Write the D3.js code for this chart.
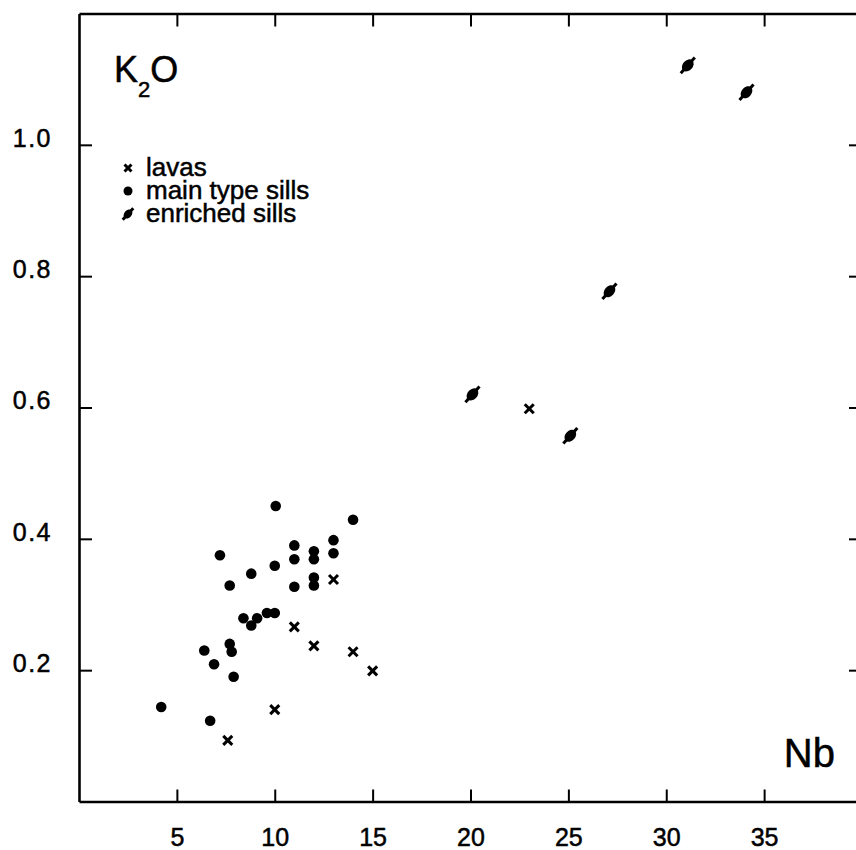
<!DOCTYPE html>
<html>
<head>
<meta charset="utf-8">
<script src="https://cdn.jsdelivr.net/npm/d3@7"></script>
<style>
  body { margin: 0; background: white; }
  text { font-family: "Liberation Sans", Arial, Helvetica, sans-serif; fill: black; stroke: black; stroke-width: 0.5px; }
</style>
</head>
<body>
<div id="canvas"></div>
<script>
"use strict"

let svgWidth = 856;
let svgHeight = 850;

/* Nb (ppm) vs K2O (wt%) : dataset */
let lavasNb  = [13.0, 11.0, 12.0, 14.0, 15.0, 10.0, 7.6, 23.0];
let lavasK2O = [0.338, 0.266, 0.237, 0.228, 0.199, 0.140, 0.093, 0.598];

let mainNb  = [10.05, 14.0, 13.0, 7.2, 11.0, 11.0, 12.0, 12.0, 13.0, 8.8, 10.0, 7.7, 11.0, 12.0,
               12.0, 8.4, 9.1, 8.8, 9.6, 10.0, 6.4, 7.7, 7.8, 6.9, 7.9, 6.7, 4.2];
let mainK2O = [0.450, 0.429, 0.398, 0.375, 0.390, 0.369, 0.381, 0.369, 0.378, 0.347, 0.359, 0.329, 0.327, 0.341,
               0.329, 0.279, 0.279, 0.268, 0.287, 0.287, 0.230, 0.240, 0.228, 0.209, 0.190, 0.123, 0.144];

let enrichedNb  = [20.1, 25.1, 27.1, 31.1, 34.1];
let enrichedK2O = [0.620, 0.557, 0.777, 1.121, 1.080];

let xTicks = [5, 10, 15, 20, 25, 30, 35];
let yTicks = [0.2, 0.4, 0.6, 0.8, 1.0];

let legendLabels = ["lavas", "main type sills", "enriched sills"];

/* Create drawing canvas */
let svg = d3.select("#canvas")
    .append("svg")
    .attr("width", svgWidth)
    .attr("height", svgHeight);

svg.append("rect")
    .attr("width", svgWidth)
    .attr("height", svgHeight)
    .attr("fill", "white");

/* Scales */
let xScale = d3.scaleLinear()
    .domain([0, 40])
    .range([79, 862]);

let yScale = d3.scaleLinear()
    .domain([0, 1.2])
    .range([801.5, 13.5]); //flipped for SVG

/* Axes: ticks point inward on all four sides */
let bottomAxis = svg.append("g")
    .attr("transform", "translate(0," + yScale(0) + ")")
    .call(d3.axisBottom(xScale).tickValues(xTicks).tickSize(-12).tickSizeOuter(0));

bottomAxis.selectAll("text")
    .attr("y", 44)
    .attr("dy", 0)
    .style("font-size", "25px");

svg.append("g")
    .attr("transform", "translate(0," + yScale(1.2) + ")")
    .call(d3.axisTop(xScale).tickValues(xTicks).tickSize(-13).tickSizeOuter(0).tickFormat(""));

let leftAxis = svg.append("g")
    .attr("transform", "translate(" + xScale(0) + ",0)")
    .call(d3.axisLeft(yScale).tickValues(yTicks).tickSize(-13).tickSizeOuter(0).tickFormat(d3.format(".1f")));

leftAxis.selectAll("text")
    .attr("x", -27)
    .attr("dy", "0.05em")
    .style("font-size", "25px")
    .style("letter-spacing", "1.5px");

svg.append("g")
    .attr("transform", "translate(" + xScale(40) + ",0)")
    .call(d3.axisRight(yScale).tickValues(yTicks).tickSize(-13).tickSizeOuter(0).tickFormat(""));

svg.selectAll(".domain")
    .attr("stroke", "black")
    .attr("stroke-width", 2.6);

svg.selectAll(".tick line")
    .attr("stroke", "black")
    .attr("stroke-width", 2);

/* Marker shapes */
function drawCross(g, size) {
    g.append("line").attr("x1", -size).attr("y1", -size).attr("x2", size).attr("y2", size);
    g.append("line").attr("x1", -size).attr("y1", size).attr("x2", size).attr("y2", -size);
    g.selectAll("line").attr("stroke", "black").attr("stroke-width", 3);
}

function drawSill(g, s) {
    g.attr("transform", g.attr("transform") + " rotate(-48)");
    g.append("line")
        .attr("x1", -10.5 * s).attr("x2", 10.5 * s)
        .attr("stroke", "black")
        .attr("stroke-width", 3);
    g.append("ellipse")
        .attr("rx", 6.8 * s)
        .attr("ry", 5 * s)
        .attr("fill", "black");
}

/* Main type sills */
svg.selectAll("circle.main")
    .data(d3.range(mainNb.length))
    .join("circle")
    .attr("class", "main")
    .attr("cx", i => xScale(mainNb[i]))
    .attr("cy", i => yScale(mainK2O[i]))
    .attr("r", 5.3)
    .attr("fill", "black");

/* Lavas */
svg.selectAll("g.lava")
    .data(d3.range(lavasNb.length))
    .join("g")
    .attr("class", "lava")
    .attr("transform", i => "translate(" + xScale(lavasNb[i]) + "," + yScale(lavasK2O[i]) + ")")
    .each(function() { drawCross(d3.select(this), 4.5); });

/* Enriched sills */
svg.selectAll("g.enriched")
    .data(d3.range(enrichedNb.length))
    .join("g")
    .attr("class", "enriched")
    .attr("transform", i => "translate(" + xScale(enrichedNb[i]) + "," + yScale(enrichedK2O[i]) + ")")
    .each(function() { drawSill(d3.select(this), 1); });

/* Axis titles */
let k2o = svg.append("text")
    .attr("x", 114)
    .attr("y", 82)
    .style("font-size", "36px");
k2o.append("tspan").text("K");
k2o.append("tspan").attr("dy", 15).style("font-size", "22px").text("2");
k2o.append("tspan").attr("dy", -15).text("O");

svg.append("text")
    .attr("x", 835)
    .attr("y", 767)
    .attr("text-anchor", "end")
    .style("font-size", "40px")
    .text("Nb");

/* Legend */
legendLabels.forEach(function(label, index) {
    let y = 176 + index * 23;
    let g = svg.append("g")
        .attr("transform", "translate(128," + (y - 8) + ")");
    if (index === 0) {
        drawCross(g, 3.5);
    } else if (index === 1) {
        g.append("circle").attr("r", 4.5).attr("fill", "black");
    } else {
        drawSill(g, 0.75);
    }

    svg.append("text")
        .attr("x", 146)
        .attr("y", y)
        .style("font-size", "26px")
        .text(label);
});
</script>
</body>
</html>
